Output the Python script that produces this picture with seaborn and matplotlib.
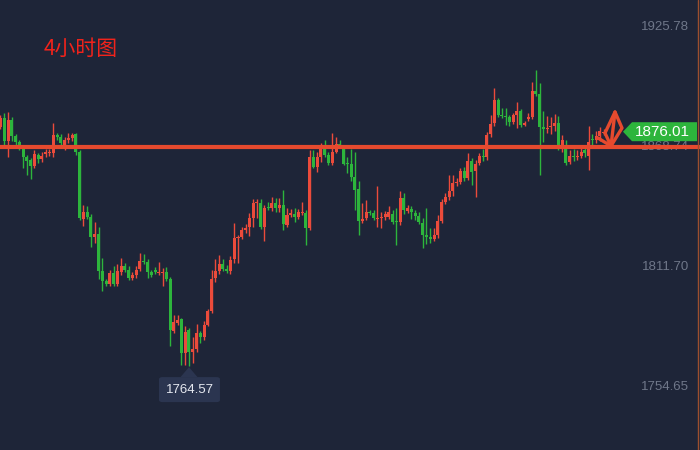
import numpy as np
import pandas as pd
import matplotlib
matplotlib.use("Agg")
import matplotlib.pyplot as plt
import matplotlib.transforms as mtransforms
from matplotlib.patches import Polygon, FancyBboxPatch
import seaborn as sns

# ---------------------------------------------------------------------------
# data: 4h candles (price units)
# ---------------------------------------------------------------------------
title_text = "4小时图"

opens = [1878.2, 1882.5, 1871.6, 1881.6, 1874.0, 1871.1, 1868.3, 1864.0, 1862.6, 1859.7,
         1864.9, 1863.0, 1865.4, 1865.9, 1865.9, 1874.4, 1873.5, 1869.2, 1872.1, 1873.0,
         1874.9, 1866.4, 1834.5, 1837.8, 1835.5, 1826.0, 1827.4, 1809.8, 1805.0, 1803.6,
         1808.8, 1803.6, 1809.3, 1812.2, 1810.3, 1806.5, 1807.9, 1810.7, 1814.5, 1814.1,
         1809.3, 1810.3, 1808.8, 1808.8, 1809.3, 1806.0, 1781.3, 1785.1, 1787.0, 1770.8,
         1781.7, 1771.3, 1772.7, 1780.3, 1778.4, 1784.1, 1790.8, 1806.5, 1809.8, 1813.1,
         1810.7, 1809.8, 1815.5, 1825.5, 1826.0, 1829.3, 1830.7, 1835.0, 1842.1, 1842.1,
         1830.7, 1840.2, 1839.7, 1842.1, 1839.7, 1841.2, 1831.7, 1836.4, 1836.9, 1835.5,
         1837.4, 1837.4, 1830.2, 1864.0, 1859.2, 1864.0, 1868.3, 1864.9, 1861.1, 1866.4,
         1870.2, 1868.3, 1861.1, 1860.7, 1854.5, 1848.8, 1833.6, 1835.0, 1837.8, 1837.4,
         1834.5, 1835.0, 1835.5, 1835.5, 1836.9, 1833.6, 1833.1, 1844.5, 1838.3, 1839.3,
         1837.4, 1835.9, 1832.6, 1826.9, 1826.0, 1825.0, 1826.9, 1833.6, 1842.6, 1845.0,
         1847.8, 1851.6, 1852.1, 1857.3, 1854.0, 1862.1, 1857.3, 1861.1, 1864.5, 1864.0,
         1874.9, 1880.1, 1891.1, 1884.0, 1883.5, 1883.0, 1880.6, 1884.0, 1885.9, 1879.2,
         1882.0, 1883.0, 1895.4, 1893.9, 1878.2, 1877.3, 1878.2, 1878.7, 1880.1, 1869.7,
         1869.7, 1861.6, 1864.5, 1864.0, 1864.5, 1867.3, 1864.5, 1872.5, 1872.1, 1874.0,
         1875.4]

highs = [1884.0, 1884.9, 1885.4, 1883.0, 1874.9, 1872.1, 1869.2, 1864.9, 1863.5, 1867.3,
         1865.9, 1866.4, 1867.8, 1867.8, 1880.1, 1875.4, 1874.9, 1873.5, 1875.4, 1875.4,
         1875.4, 1867.3, 1841.2, 1840.7, 1836.9, 1833.1, 1830.7, 1816.0, 1806.0, 1810.3,
         1812.2, 1813.1, 1816.0, 1813.6, 1812.2, 1809.3, 1812.2, 1818.3, 1817.9, 1815.5,
         1810.3, 1811.7, 1814.1, 1811.2, 1811.7, 1806.9, 1788.9, 1788.9, 1787.4, 1783.6,
         1782.7, 1778.4, 1784.6, 1781.3, 1786.0, 1791.7, 1810.3, 1815.5, 1817.4, 1815.5,
         1812.6, 1816.9, 1832.6, 1826.9, 1830.7, 1832.1, 1837.4, 1844.0, 1844.0, 1844.0,
         1841.2, 1842.6, 1845.0, 1844.5, 1844.5, 1848.3, 1839.7, 1839.3, 1839.7, 1839.3,
         1842.6, 1838.8, 1867.3, 1867.3, 1866.4, 1870.6, 1872.1, 1866.4, 1875.4, 1873.5,
         1872.1, 1869.7, 1864.0, 1867.8, 1866.4, 1852.6, 1842.1, 1843.5, 1838.8, 1838.8,
         1850.2, 1837.8, 1838.3, 1840.7, 1838.8, 1839.7, 1847.8, 1846.9, 1841.2, 1840.7,
         1838.8, 1837.8, 1835.0, 1839.7, 1830.2, 1830.2, 1836.4, 1844.0, 1846.9, 1855.4,
         1855.4, 1854.0, 1858.8, 1859.2, 1865.9, 1863.5, 1862.6, 1865.9, 1867.8, 1875.9,
         1884.0, 1896.8, 1892.0, 1887.3, 1887.3, 1884.0, 1884.9, 1890.1, 1886.8, 1881.1,
         1884.9, 1899.6, 1905.3, 1899.2, 1885.9, 1883.5, 1883.0, 1884.4, 1883.5, 1874.4,
         1872.1, 1867.3, 1867.8, 1867.3, 1868.3, 1869.2, 1878.7, 1874.9, 1876.3, 1878.2,
         1877.3]

lows = [1877.3, 1869.7, 1864.0, 1871.6, 1869.2, 1867.3, 1858.8, 1855.4, 1853.5, 1858.8,
        1861.1, 1861.6, 1864.0, 1864.5, 1864.0, 1872.1, 1869.2, 1867.3, 1870.6, 1871.6,
        1864.9, 1834.0, 1831.2, 1834.5, 1821.2, 1823.1, 1806.0, 1800.3, 1802.7, 1802.7,
        1802.7, 1802.7, 1807.9, 1809.3, 1805.5, 1805.5, 1806.5, 1809.8, 1813.1, 1806.5,
        1806.9, 1808.4, 1807.9, 1802.7, 1805.0, 1774.1, 1780.3, 1784.1, 1765.1, 1765.1,
        1764.57, 1766.1, 1771.3, 1775.6, 1777.0, 1783.6, 1789.8, 1804.6, 1808.4, 1809.8,
        1808.8, 1808.4, 1813.6, 1813.6, 1825.0, 1827.9, 1826.4, 1830.7, 1835.0, 1829.8,
        1824.1, 1838.8, 1838.3, 1837.8, 1837.8, 1829.3, 1830.7, 1835.5, 1833.1, 1834.5,
        1836.4, 1822.2, 1829.3, 1858.8, 1856.9, 1861.6, 1864.0, 1860.2, 1860.2, 1865.9,
        1868.3, 1860.2, 1856.4, 1852.6, 1838.8, 1826.9, 1832.6, 1834.0, 1836.4, 1834.0,
        1830.7, 1830.2, 1834.0, 1834.5, 1832.1, 1822.2, 1831.7, 1836.9, 1837.4, 1834.5,
        1834.0, 1832.1, 1820.7, 1822.6, 1823.1, 1824.1, 1825.5, 1832.6, 1841.6, 1843.5,
        1845.4, 1850.2, 1851.1, 1852.6, 1853.0, 1850.7, 1845.0, 1860.2, 1862.1, 1862.6,
        1873.5, 1878.7, 1883.0, 1882.5, 1879.2, 1878.7, 1879.7, 1877.8, 1878.2, 1878.7,
        1881.1, 1882.0, 1893.0, 1855.4, 1871.1, 1875.4, 1874.9, 1876.3, 1867.3, 1866.4,
        1860.2, 1860.7, 1862.1, 1862.6, 1863.5, 1864.0, 1857.8, 1869.7, 1870.6, 1871.6,
        1874.4]

closes = [1882.5, 1871.6, 1881.6, 1874.0, 1871.1, 1869.2, 1864.0, 1862.1, 1859.7, 1865.4,
          1863.0, 1864.5, 1866.4, 1866.4, 1874.4, 1873.5, 1870.6, 1872.1, 1873.0, 1874.4,
          1866.4, 1835.0, 1837.8, 1835.5, 1826.0, 1827.4, 1809.8, 1805.0, 1803.6, 1808.8,
          1803.6, 1809.8, 1812.2, 1810.3, 1806.5, 1807.9, 1810.3, 1814.5, 1814.1, 1809.3,
          1807.9, 1809.3, 1809.3, 1809.3, 1806.0, 1781.7, 1785.5, 1786.5, 1770.8, 1780.8,
          1771.3, 1772.7, 1780.3, 1778.4, 1784.1, 1790.8, 1806.0, 1809.8, 1813.1, 1810.7,
          1809.8, 1815.0, 1825.5, 1826.0, 1829.3, 1830.2, 1835.0, 1842.1, 1842.6, 1830.7,
          1839.7, 1839.7, 1842.1, 1839.7, 1841.2, 1832.1, 1836.4, 1837.4, 1835.5, 1837.8,
          1837.8, 1830.2, 1864.0, 1859.2, 1864.0, 1868.3, 1864.9, 1861.1, 1866.4, 1870.2,
          1869.7, 1860.7, 1860.7, 1854.5, 1848.3, 1833.6, 1834.5, 1837.8, 1837.4, 1835.0,
          1835.0, 1835.5, 1836.9, 1837.8, 1833.1, 1833.1, 1844.5, 1838.8, 1839.7, 1837.8,
          1835.9, 1833.1, 1826.9, 1826.0, 1825.0, 1826.9, 1833.6, 1842.6, 1845.0, 1847.8,
          1851.6, 1852.1, 1857.3, 1854.0, 1862.1, 1856.9, 1860.7, 1864.5, 1864.0, 1874.4,
          1879.7, 1891.1, 1884.0, 1883.5, 1883.0, 1880.6, 1884.0, 1885.9, 1879.2, 1880.1,
          1883.0, 1895.4, 1893.9, 1878.2, 1877.3, 1877.8, 1878.7, 1880.1, 1869.7, 1872.1,
          1861.1, 1864.5, 1864.0, 1864.5, 1866.4, 1865.9, 1871.1, 1872.1, 1874.0, 1876.3,
          1876.01]

ytick_values = [1925.78, 1868.74, 1811.70, 1754.65]
line_level = 1868.6

# ---------------------------------------------------------------------------
# style
# ---------------------------------------------------------------------------
BG = "#1e2538"
UP = "#eb4b3b"
DOWN = "#2db53c"
LINE = "#e64a2e"
TICK = "#6f7789"
LABEL_BG = "#2db53c"
BOX_BG = "#2b3550"

sns.set_style("dark", {"axes.facecolor": BG, "figure.facecolor": BG})
plt.rcParams["font.family"] = ["Liberation Sans", "Noto Sans CJK SC", "DejaVu Sans"]

W, H = 700, 450
fig = plt.figure(figsize=(7, 4.5), dpi=100)
ax = fig.add_axes([0, 0, 1, 1])
ax.set_facecolor(BG)

df = pd.DataFrame({"open": opens, "high": highs, "low": lows, "close": closes})
df["up"] = df["close"] >= df["open"]
df["color"] = np.where(df["up"], UP, DOWN)
df["bottom"] = df[["open", "close"]].min(axis=1)
df["height"] = (df["close"] - df["open"]).abs().clip(lower=0.5)

# wicks then bodies
ax.vlines(df.index, df["low"], df["high"], colors=df["color"], linewidth=1, zorder=2)
ax.bar(df.index, df["height"], bottom=df["bottom"], width=0.8,
       color=df["color"], linewidth=0, zorder=3)

ax.set_xlim(-0.13, 185.55)
ax.set_ylim(1724.69, 1938.62)
ax.set_xticks([])
ax.set_yticks([])
sns.despine(ax=ax, left=True, bottom=True)
ax.grid(False)

# price labels inside the plot on the right
blend = mtransforms.blended_transform_factory(ax.transAxes, ax.transData)
for v in ytick_values:
    ax.text(0.984, v, f"{v:.2f}", transform=blend, ha="right", va="center",
            color=TICK, fontsize=9.5, zorder=1)

# support line
ax.axhline(line_level, color=LINE, linewidth=3, zorder=5)

# thin right border
ax.plot([0.9971, 0.9971], [0, 1], transform=ax.transAxes, color="#9c4f2e",
        linewidth=1, zorder=6)


def fig_xy(px, py):
    # pixel (from top-left) -> figure fraction
    return px / W, 1 - py / H


# last price tag
last = closes[-1]
_, ly = ax.transData.transform((0, last))
ly = H - ly
tag = [fig_xy(623, ly), fig_xy(632, ly - 9.5), fig_xy(697, ly - 9.5),
       fig_xy(697, ly + 9.5), fig_xy(632, ly + 9.5)]
ax.add_patch(Polygon(tag, closed=True, transform=fig.transFigure, facecolor=LABEL_BG,
                     edgecolor="none", clip_on=False, zorder=7))
tx, ty = fig_xy(662, ly + 0.5)
ax.text(tx, ty, f"{last:.2f}", transform=fig.transFigure, ha="center", va="center",
        color="white", fontsize=11, zorder=8)

# hand drawn arrow
strokes = [
    [(605, 133), (615, 112), (622, 128), (611, 146)],
    [(615, 112), (611, 146)],
    [(598, 138), (611, 146)],
    [(605, 133), (611, 146)],
]
for s in strokes:
    pts = [fig_xy(x, y) for x, y in s]
    ax.plot([p[0] for p in pts], [p[1] for p in pts], transform=fig.transFigure,
            color=LINE, linewidth=2.4, solid_capstyle="round", solid_joinstyle="round",
            zorder=6, clip_on=False)

# low marker
i_low = int(np.argmin(lows))
dx, dy = ax.transData.transform((i_low, lows[i_low]))
dy = H - dy
tri = [fig_xy(dx, dy + 1), fig_xy(dx - 8.5, dy + 11), fig_xy(dx + 8.5, dy + 11)]
ax.add_patch(Polygon(tri, closed=True, transform=fig.transFigure, facecolor=BOX_BG,
                     edgecolor="none", clip_on=False, zorder=7))
bx, by = fig_xy(dx - 30, dy + 36)
ax.add_patch(FancyBboxPatch((bx, by), 61 / W, 25 / H,
                            boxstyle="round,pad=0,rounding_size=0.005",
                            transform=fig.transFigure, facecolor=BOX_BG,
                            edgecolor="none", clip_on=False, zorder=7))
lx, lyy = fig_xy(dx + 0.5, dy + 23.5)
ax.text(lx, lyy, f"{lows[i_low]:.2f}", transform=fig.transFigure, ha="center",
        va="center", color="#e6e9f0", fontsize=9.5, zorder=8)

# title
fig.text(44 / W, 1 - 49 / H, title_text, color="#f2231b", fontsize=15,
         ha="left", va="center", family=["Noto Sans CJK SC", "DejaVu Sans"])

fig.savefig("out.png", dpi=100, facecolor=BG)
